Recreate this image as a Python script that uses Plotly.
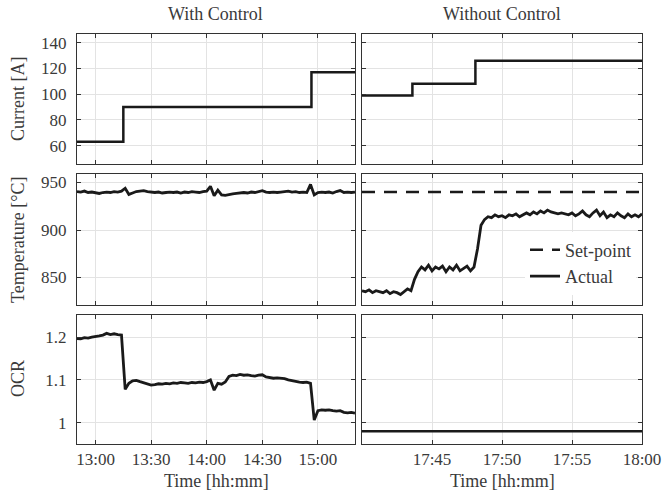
import pandas as pd
import plotly.graph_objects as go
from plotly.subplots import make_subplots

# ---------------- data ----------------
DAY = "2020-01-01 "
cur_ctrl_time = ["12:50", "13:15", "14:56.5", "15:20"]
cur_ctrl_val = [63, 90, 117, 117]
cur_free_time = ["17:40", "17:43.6", "17:48.1", "18:00"]
cur_free_val = [99, 108, 126, 126]

temp_ctrl_start = "12:50"
temp_ctrl_step_min = 2
temp_ctrl_val = [
    940.5, 940, 941, 939.5, 940,
    939, 938.5, 939.5, 940, 939.5, 940.5, 940, 941, 944, 937.5,
    939, 940.5, 941, 941.5, 940.5, 940, 939.5, 940, 939, 939.5,
    940, 939.5, 940, 939, 940, 939.5, 940.5, 940, 939.5, 940.5,
    941, 946, 936, 942, 937, 936.5, 937.5, 938, 938.5, 939,
    939.5, 939, 940, 939.5, 940.5, 941.5, 940, 939.5, 940, 939.5,
    940, 940.5, 941, 940, 940.5, 939.5, 940, 939.5, 948, 937,
    939.5, 940, 939.5, 940, 939, 940.5, 941.5, 939.5, 940, 939.5, 940,
]
temp_free_start = "17:40"
temp_free_step_s = 15
temp_free_val = [
    836, 835, 837, 834, 836, 835, 834, 836, 833, 835, 834, 832,
    835, 838, 836, 848, 856, 861, 858, 863, 857, 861, 859, 862,
    856, 861, 858, 863, 857, 860, 862, 857, 861, 880, 905, 911,
    914, 913, 916, 914, 915, 913, 916, 915, 917, 914, 916, 918,
    916, 919, 917, 920, 918, 921, 919, 918, 917, 918, 917, 916,
    918, 915, 917, 920, 916, 914, 918, 921, 915, 919, 913, 916,
    914, 918, 915, 913, 917, 914, 916, 914, 917,
]
setpoint_time = ["17:40", "18:00"]
setpoint_val = [940, 940]

ocr_ctrl_val = [
    1.197, 1.196, 1.199, 1.198, 1.200,
    1.201, 1.203, 1.205, 1.209, 1.206, 1.208, 1.206, 1.205, 1.078, 1.092,
    1.098, 1.099, 1.096, 1.093, 1.090, 1.088, 1.089, 1.091, 1.090, 1.092,
    1.091, 1.093, 1.092, 1.094, 1.093, 1.092, 1.094, 1.093, 1.095, 1.094,
    1.096, 1.100, 1.076, 1.092, 1.090, 1.095, 1.108, 1.111, 1.110, 1.113,
    1.111, 1.112, 1.110, 1.109, 1.111, 1.112, 1.107, 1.106, 1.104, 1.105,
    1.104, 1.103, 1.100, 1.098, 1.097, 1.095, 1.094, 1.095, 1.092, 1.006,
    1.028, 1.030, 1.029, 1.030, 1.028, 1.027, 1.028, 1.024, 1.023, 1.024, 1.022,
]
ocr_free_time = ["17:40", "18:00"]
ocr_free_val = [0.98, 0.98]

left_ticks = ["13:00", "13:30", "14:00", "14:30", "15:00"]
right_ticks = ["17:45", "17:50", "17:55", "18:00"]
cur_ticks = [60, 80, 100, 120, 140]
temp_ticks = [850, 900, 950]
ocr_ticks = [1, 1.1, 1.2]
ocr_ticktext = ["1", "1.1", "1.2"]


def hm(s):
    h, m = s.split(":")
    return pd.Timestamp(DAY + h + ":00") + pd.Timedelta(minutes=float(m))


def reg_times(start, n, step):
    return [hm(start) + step * i for i in range(n)]


t_temp_ctrl = reg_times(temp_ctrl_start, len(temp_ctrl_val), pd.Timedelta(minutes=temp_ctrl_step_min))
t_ocr_ctrl = reg_times(temp_ctrl_start, len(ocr_ctrl_val), pd.Timedelta(minutes=temp_ctrl_step_min))
t_temp_free = reg_times(temp_free_start, len(temp_free_val), pd.Timedelta(seconds=temp_free_step_s))

LINE = "#1a1a1a"
FONT = "Liberation Serif, Times New Roman, serif"
TXT = "#3a3a3a"

fig = make_subplots(rows=3, cols=2)

def add(x, y, r, c, shape="linear", dash="solid", name=None, legend=False, width=2.5):
    fig.add_trace(go.Scatter(x=x, y=y, mode="lines", line=dict(color=LINE, width=width, shape=shape, dash=dash),
                             name=name, showlegend=legend, hoverinfo="skip"), row=r, col=c)

add([hm(t) for t in cur_ctrl_time], cur_ctrl_val, 1, 1, shape="hv")
add([hm(t) for t in cur_free_time], cur_free_val, 1, 2, shape="hv")
add(t_temp_ctrl, temp_ctrl_val, 2, 1, width=2.8)
add([hm(t) for t in setpoint_time], setpoint_val, 2, 2, dash="13px,9px", name="Set-point", legend=True)
add(t_temp_free, temp_free_val, 2, 2, name="Actual", legend=True, width=2.8)
add(t_ocr_ctrl, ocr_ctrl_val, 3, 1, width=2.8)
add([hm(t) for t in ocr_free_time], ocr_free_val, 3, 2)

W, H = 663, 497
xl = [77 / W, 355 / W]
xr = [362 / W, 642 / W]
rows_y = [(34, 164), (174, 305), (315, 444)]

common = dict(showline=True, linecolor="#333333", linewidth=1, mirror="ticks", ticks="inside", ticklen=4,
              tickcolor="#333333", showgrid=True, gridcolor="#e3e3e3", gridwidth=1, zeroline=False,
              tickfont=dict(family=FONT, size=17, color=TXT), automargin=False)

yranges = [[45.8, 146.7], [821, 959], [0.95, 1.252]]
yticks = [(cur_ticks, [str(v) for v in cur_ticks]), (temp_ticks, [str(v) for v in temp_ticks]), (ocr_ticks, ocr_ticktext)]

for r in range(3):
    top, bot = rows_y[r]
    dom = [1 - bot / H, 1 - top / H]
    for c in range(2):
        idx = r * 2 + c + 1
        xa = "xaxis" if idx == 1 else f"xaxis{idx}"
        ya = "yaxis" if idx == 1 else f"yaxis{idx}"
        if c == 0:
            xrng = [hm("12:50"), hm("15:20")]
            xt = [hm(t) for t in left_ticks]
            xtt = left_ticks
        else:
            xrng = [hm("17:40"), hm("18:00")]
            xt = [hm(t) for t in right_ticks]
            xtt = right_ticks
        fig.layout[xa].update(domain=xl if c == 0 else xr, range=xrng, tickvals=xt, ticktext=xtt,
                              showticklabels=(r == 2), **common)
        fig.layout[ya].update(domain=dom, range=yranges[r], tickvals=yticks[r][0], ticktext=yticks[r][1],
                              showticklabels=(c == 0), ticklabelstandoff=6, **common)

ann = []
def text(x, y, s, size=18, angle=0):
    ann.append(dict(x=x / W, y=1 - y / H, xref="paper", yref="paper", text=s, showarrow=False,
                    font=dict(family=FONT, size=size, color=TXT), textangle=angle,
                    xanchor="center", yanchor="middle"))

text(215, 14, "With Control")
text(502, 14, "Without Control")
text(216, 481, "Time [hh:mm]")
text(502, 481, "Time [hh:mm]")
text(18, 99, "Current [A]", angle=-90)
text(18, 240, "Temperature [°C]", angle=-90)
text(18, 379, "OCR", angle=-90)

fig.update_layout(
    width=W, height=H, margin=dict(l=0, r=0, t=0, b=0), autosize=False,
    paper_bgcolor="white", plot_bgcolor="white",
    annotations=ann,
    legend=dict(x=636 / W, y=1 - 263 / H, xanchor="right", yanchor="middle", bgcolor="white",
                borderwidth=0, font=dict(family=FONT, size=18, color=TXT), tracegroupgap=0),
)

fig.write_html(
    "out.html",
    config={"displayModeBar": False, "responsive": False, "staticPlot": True},
    post_script="document.body.style.margin='0px';document.body.style.overflow='hidden';",
)
